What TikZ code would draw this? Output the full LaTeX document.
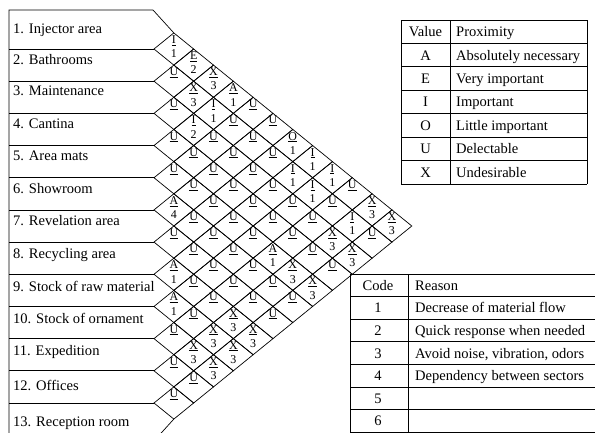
\documentclass[tikz,border=0pt]{standalone}
\usepackage{fontspec}
\setmainfont{Liberation Serif}
\usetikzlibrary{shapes.geometric}
\begin{document}
\begin{tikzpicture}[x=1bp,y=-1bp,
  cell/.style={diamond, draw, line width=0.7bp, minimum width=39.66bp,
    minimum height=32.18bp, inner sep=0pt, outer sep=0pt},
  rating/.style={anchor=base, inner sep=0pt, font=\fontsize{12}{13}\selectfont},
  dept/.style={anchor=base west, inner sep=0pt, font=\fontsize{14.6}{16}\selectfont},
  ctext/.style={anchor=base, inner sep=0pt, font=\fontsize{14.6}{16}\selectfont},
  ltext/.style={anchor=base west, inner sep=0pt, font=\fontsize{14.6}{16}\selectfont},
  rule/.style={line width=0.7bp},
  tabrule/.style={line width=0.9bp}]
\clip (0,0) rectangle (595,432);

% relationship cells: i/j/value/reason (0 = no reason)
\foreach \i/\j/\va/\rc in {
  1/2/I/1, 1/3/E/2, 1/4/X/3, 1/5/A/1, 1/6/U/0, 1/7/U/0, 1/8/O/1, 1/9/I/1, 1/10/I/1, 1/11/U/0, 1/12/X/3, 1/13/X/3,
  2/3/U/0, 2/4/X/3, 2/5/I/1, 2/6/U/0, 2/7/U/0, 2/8/U/0, 2/9/I/1, 2/10/I/1, 2/11/U/0, 2/12/I/1, 2/13/U/0,
  3/4/U/0, 3/5/I/2, 3/6/U/0, 3/7/U/0, 3/8/U/0, 3/9/U/0, 3/10/U/0, 3/11/U/0, 3/12/X/3, 3/13/X/3,
  4/5/U/0, 4/6/U/0, 4/7/U/0, 4/8/U/0, 4/9/U/0, 4/10/U/0, 4/11/U/0, 4/12/U/0, 4/13/U/0,
  5/6/U/0, 5/7/U/0, 5/8/U/0, 5/9/U/0, 5/10/U/0, 5/11/A/1, 5/12/X/3, 5/13/X/3,
  6/7/A/4, 6/8/U/0, 6/9/U/0, 6/10/U/0, 6/11/U/0, 6/12/U/0, 6/13/U/0,
  7/8/U/0, 7/9/U/0, 7/10/U/0, 7/11/U/0, 7/12/U/0, 7/13/U/0,
  8/9/A/1, 8/10/U/0, 8/11/U/0, 8/12/X/3, 8/13/X/3,
  9/10/A/1, 9/11/U/0, 9/12/X/3, 9/13/X/3,
  10/11/U/0, 10/12/X/3, 10/13/X/3,
  11/12/U/0, 11/13/U/0,
  12/13/U/0}{
  \node[cell] (d\i-\j) at ({154+19.83*(\j-\i)},{49+16.09*(\i+\j-3)}) {};
  \node[rating] (v\i-\j) at ([yshift=5.5bp]d\i-\j.center) {\underline{\va}};
  \ifnum\rc>0
    \node[rating] (r\i-\j) at ([yshift=-8.8bp]d\i-\j.center) {\rc};
  \fi
}

% department column
\coordinate (L) at (9,0);
\coordinate (topc) at (153,10);
\coordinate (botc) at (153,442);
\draw[rule] (d1-2.north) -- (topc) -- (topc -| L) -- (botc -| L) -- (botc) -- (d12-13.south);
\foreach \k in {1,...,12}{
  \pgfmathtruncatemacro{\kk}{\k+1}
  \draw[rule] (d\k-\kk.west -| L) -- (d\k-\kk.west);
}
\foreach \k/\y/\t in {
  1/33/{1. Injector area}, 2/64/{2. Bathrooms}, 3/95/{3. Maintenance},
  4/128/{4. Cantina}, 5/160/{5. Area mats}, 6/193/{6. Showroom},
  7/225/{7. Revelation area}, 8/258/{8. Recycling area},
  9/291/{9. Stock of raw material}, 10/323/{10. Stock of ornament},
  11/355/{11. Expedition}, 12/390/{12. Offices}, 13/426/{13. Reception room}}{
  \node[dept] (dep\k) at (13,\y) {\t};
}

% proximity table
\foreach \k in {0,...,7}{
  \draw[tabrule] (401,{20+23.43*\k}) -- (587,{20+23.43*\k});
}
\draw[tabrule] (401,20) -- (401,184);
\draw[tabrule] (450,20) -- (450,184);
\draw[tabrule] (587,20) -- (587,184);
\foreach \k/\a/\b in {0/Value/Proximity, 1/A/Absolutely necessary, 2/E/Very important,
  3/I/Important, 4/O/Little important, 5/U/Delectable, 6/X/Undesirable}{
  \node[ctext] (pv\k) at (425.5,{20+23.43*\k+16.7}) {\a};
  \node[ltext] (pd\k) at (456,{20+23.43*\k+16.7}) {\b};
}

% reason table
\foreach \k in {0,...,8}{
  \draw[tabrule] (350,{274+22.6*\k}) -- (600,{274+22.6*\k});
}
\draw[tabrule] (350,274) -- (350,460);
\draw[tabrule] (408,274) -- (408,460);
\foreach \k/\a/\b in {0/Code/Reason, 1/1/Decrease of material flow,
  2/2/Quick response when needed, 3/3/{Avoid noise, vibration, odors},
  4/4/Dependency between sectors, 5/5/{}, 6/6/{}}{
  \node[ctext] (rcd\k) at (378,{274+22.6*\k+16.3}) {\a};
  \node[ltext] (rrs\k) at (415,{274+22.6*\k+16.3}) {\b};
}
\end{tikzpicture}
\end{document}
